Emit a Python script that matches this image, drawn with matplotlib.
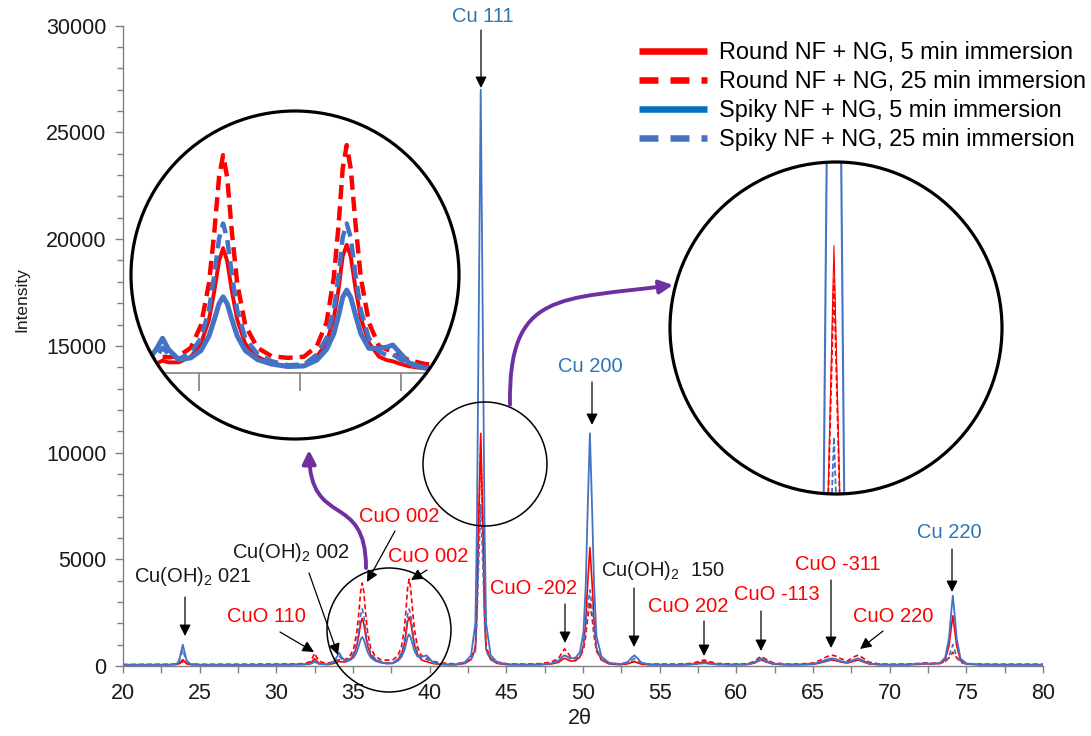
import matplotlib
matplotlib.use("Agg")
import matplotlib.pyplot as plt
import matplotlib.transforms as mtransforms
from matplotlib.patches import Circle, FancyArrowPatch
from matplotlib.path import Path
from matplotlib.lines import Line2D
from matplotlib.ticker import MultipleLocator

plt.rcParams['font.family'] = ['Liberation Sans', 'DejaVu Sans']
plt.rcParams['mathtext.fontset'] = 'custom'
plt.rcParams['mathtext.rm'] = 'Liberation Sans'
plt.rcParams['mathtext.it'] = 'Liberation Sans:italic'
plt.rcParams['mathtext.default'] = 'regular'

# ---------------- data ----------------
two_theta = [
    20, 21, 22, 23, 23.5,
    23.65, 23.78, 23.9, 24.02, 24.15, 24.4,
    25, 26.5, 28, 29.5, 31, 31.8,
    32.2, 32.38, 32.5, 32.62, 32.8, 33.1,
    33.4, 33.7, 33.95, 34.1, 34.25, 34.5, 34.8, 35.05, 35.25, 35.38,
    35.5, 35.6, 35.7, 35.82, 35.95, 36.15, 36.45, 36.8, 37.2, 37.6,
    37.92, 38.16, 38.34, 38.46, 38.56, 38.66, 38.76, 38.88, 39.01, 39.21,
    39.46, 39.65, 39.8, 39.95, 40.2, 40.6, 41.2,
    41.7, 42.3, 42.7, 42.98, 43.08, 43.18, 43.33, 43.48, 43.58, 43.68, 43.98, 44.4, 45.1,
    46.2, 47.2, 47.9,
    48.4, 48.65, 48.8, 48.95, 49.2, 49.5, 49.8, 50.03, 50.18, 50.3, 50.45, 50.6, 50.72, 50.88, 51.2, 51.7,
    52.4, 52.9, 53.15, 53.35, 53.55, 53.8, 54.3,
    55.3, 56.2, 57.1, 57.6, 57.9, 58.2, 58.7,
    59.8, 60.7, 61.2, 61.45, 61.65, 61.9, 62.4,
    63.3, 64.2, 65.0, 65.45, 65.85, 66.2, 66.5, 66.85, 67.25, 67.65, 67.95, 68.25, 68.65, 69.3,
    70.2, 71.2, 71.9, 72.3, 72.7, 73.3, 73.62, 73.87, 74.0, 74.12, 74.24, 74.37, 74.62, 75.0, 75.8, 77, 78.5, 80,
]

round_5min = [
    50, 50, 50, 55, 70,
    110, 200, 300, 200, 110, 60,
    50, 50, 50, 55, 60, 70,
    110, 250, 350, 250, 120, 80,
    70, 110, 170, 220, 190, 190, 290, 520, 950, 1450,
    2000, 2230, 2000, 1450, 950, 520, 290, 170, 120, 130,
    290, 540, 980, 1500, 2080, 2290, 2080, 1500, 980, 540,
    290, 230, 210, 170, 120, 80, 60,
    60, 120, 300, 800, 2600, 6300, 10900, 6300, 2600, 800, 300, 120, 60,
    55, 60, 90,
    170, 300, 360, 310, 230, 240, 420, 950, 2100, 3800, 5550, 3800, 2100, 800, 280, 100,
    60, 100, 160, 200, 150, 90, 60,
    55, 55, 80, 150, 200, 150, 80,
    60, 70, 140, 240, 280, 200, 90,
    60, 60, 80, 140, 220, 280, 250, 180, 140, 220, 280, 200, 100, 65,
    55, 60, 80, 100, 90, 120, 300, 950, 1700, 2350, 1700, 950, 260, 100, 60, 55, 55, 55,
]

round_25min = [
    70, 70, 75, 80, 90,
    110, 160, 200, 160, 110, 85,
    80, 80, 85, 90, 95, 110,
    200, 420, 600, 420, 220, 150,
    140, 200, 260, 290, 280, 300, 450, 850, 1600, 2500,
    3500, 3890, 3500, 2500, 1600, 850, 450, 300, 270, 290,
    480, 900, 1700, 2650, 3650, 4070, 3650, 2650, 1700, 900,
    480, 420, 390, 320, 230, 160, 120,
    100, 170, 350, 900, 2700, 6200, 10300, 6200, 2700, 900, 350, 180, 100,
    90, 110, 180,
    350, 650, 800, 680, 420, 350, 450, 750, 1400, 2200, 3000, 2200, 1400, 700, 300, 140,
    100, 130, 180, 220, 170, 120, 90,
    90, 90, 120, 220, 280, 220, 120,
    90, 110, 220, 380, 440, 330, 150,
    90, 100, 140, 260, 420, 515, 460, 330, 240, 420, 515, 380, 180, 100,
    85, 95, 120, 150, 130, 140, 200, 380, 520, 650, 520, 380, 180, 110, 90, 85, 85, 85,
]

spiky_5min = [
    60, 60, 60, 65, 90,
    250, 650, 1000, 650, 250, 90,
    60, 55, 55, 60, 65, 75,
    90, 150, 200, 150, 95, 80,
    80, 170, 430, 620, 420, 240, 270, 400, 660, 950,
    1240, 1360, 1240, 950, 660, 400, 240, 160, 115, 125,
    230, 420, 700, 1030, 1350, 1480, 1350, 1030, 700, 440,
    440, 460, 500, 380, 180, 90, 70,
    80, 180, 500, 2000, 6500, 14500, 27000, 14500, 6500, 2000, 500, 180, 80,
    65, 75, 110,
    250, 430, 500, 450, 360, 380, 650, 1600, 3800, 7200, 10900, 7200, 3800, 1400, 450, 150,
    80, 180, 380, 500, 370, 160, 80,
    60, 60, 75, 110, 130, 110, 75,
    65, 80, 180, 310, 360, 260, 110,
    65, 70, 100, 180, 290, 360, 320, 220, 170, 290, 360, 260, 120, 70,
    60, 70, 100, 130, 110, 150, 400, 1300, 2400, 3300, 2400, 1300, 350, 120, 70, 60, 60, 60,
]

spiky_25min = [
    55, 55, 60, 65, 85,
    200, 490, 750, 490, 200, 80,
    55, 55, 55, 60, 65, 75,
    100, 180, 250, 180, 100, 80,
    80, 140, 300, 450, 340, 250, 360, 620, 1120, 1740,
    2400, 2670, 2400, 1740, 1120, 620, 340, 210, 140, 150,
    330, 620, 1120, 1740, 2420, 2670, 2420, 1740, 1120, 620,
    380, 320, 330, 260, 150, 90, 70,
    70, 140, 300, 700, 2000, 4500, 7550, 4500, 2000, 700, 300, 140, 70,
    60, 75, 120,
    230, 420, 500, 440, 330, 330, 500, 950, 1800, 2700, 3560, 2700, 1800, 850, 320, 120,
    70, 150, 270, 350, 260, 130, 70,
    60, 60, 75, 110, 140, 110, 75,
    65, 80, 150, 240, 280, 210, 100,
    60, 65, 90, 160, 240, 300, 270, 190, 150, 240, 300, 220, 110, 65,
    60, 65, 90, 110, 100, 120, 200, 450, 750, 1000, 750, 450, 170, 90, 65, 60, 60, 60,
]

series_labels = ['Round NF + NG, 5 min immersion', 'Round NF + NG, 25 min immersion',
                 'Spiky NF + NG, 5 min immersion', 'Spiky NF + NG, 25 min immersion']

x_ticks = [20, 25, 30, 35, 40, 45, 50, 55, 60, 65, 70, 75, 80]
y_ticks = [0, 5000, 10000, 15000, 20000, 25000, 30000]

RED = '#FF0000'
BLUE = '#4472C4'
BLUE_DARK = '#0070C0'
CU_BLUE = '#2E75B6'
PURPLE = '#7030A0'

series = [
    (round_5min, RED, False),
    (round_25min, RED, True),
    (spiky_5min, BLUE, False),
    (spiky_25min, BLUE, True),
]

# ---------------- figure ----------------
W, H = 1091, 736
fig = plt.figure(figsize=(W / 100, H / 100), dpi=100)
pix = mtransforms.Affine2D().scale(1 / 100, -1 / 100).translate(0, H / 100) + fig.dpi_scale_trans


def box(l, t, w, h):
    return [l / W, 1 - (t + h) / H, w / W, h / H]


ax = fig.add_axes(box(123, 25.7, 920, 640.3))


def draw_series(a, widths, dash, clip=None):
    for (y, c, dashed), lw in zip(series, widths):
        kw = dict(color=c, lw=lw, solid_capstyle='butt', dash_capstyle='butt',
                  solid_joinstyle='round')
        if dashed:
            kw['linestyle'] = (0, dash)
        line, = a.plot(two_theta, y, **kw)
        if clip is not None:
            line.set_clip_path(clip)


draw_series(ax, [1.2, 1.2, 1.3, 1.2], (3, 1.8))
ax.set_xlim(20, 80)
ax.set_ylim(0, 30000)
ax.set_xticks(x_ticks)
ax.set_yticks(y_ticks)
ax.xaxis.set_minor_locator(MultipleLocator(2.5))
ax.yaxis.set_minor_locator(MultipleLocator(1000))
for s in ['top', 'right']:
    ax.spines[s].set_visible(False)
for s in ['left', 'bottom']:
    ax.spines[s].set_color('#808080')
    ax.spines[s].set_linewidth(1.0)
ax.tick_params(which='both', direction='out', color='#808080', width=1.0,
               labelsize=15.5, labelcolor='#1a1a1a')
ax.tick_params(axis='x', which='both', length=5, pad=7)
ax.tick_params(axis='y', which='major', length=6, pad=6)
ax.tick_params(axis='y', which='minor', length=4)
ax.set_xlabel('2θ', fontsize=15.5, color='#1a1a1a')
ax.xaxis.set_label_coords((580 - 123) / 920, (666 - 708) / 640.3)
ax.set_ylabel('Intensity', fontsize=12.5, color='#1a1a1a')
ax.yaxis.set_label_coords((29 - 123) / 920, (666 - 300) / 640.3)

# ---------------- small circles on main plot ----------------
for (cx, cy) in [(389, 630), (485, 464)]:
    fig.add_artist(Circle((cx, cy), 62, transform=pix, fill=False, ec='black', lw=1.1))

# ---------------- annotations ----------------
labels = [
    ('Cu(OH)$_2$ 021', 'black', (193, 576), (185, 597), (185, 636)),
    ('CuO 110', RED, (266, 616), (280, 632), (314, 652)),
    ('Cu(OH)$_2$ 002', 'black', (291, 553), (309, 573), (338, 655)),
    ('CuO 002', RED, (399, 517), (395, 531), (367, 582)),
    ('CuO 002', RED, (428, 557), (427, 570), (411, 580)),
    ('CuO -202', RED, (533, 588), (565, 604), (565, 643)),
    ('Cu 200', CU_BLUE, (590, 367), (592, 382), (592, 425)),
    ('Cu(OH)$_2$  150', 'black', (663, 571), (634, 588), (634, 647)),
    ('CuO 202', RED, (688, 606), (704, 621), (704, 656)),
    ('CuO -113', RED, (777, 595), (761, 611), (761, 651)),
    ('CuO -311', RED, (838, 564), (831, 580), (831, 648)),
    ('CuO 220', RED, (893, 616), (883, 631), (860, 649)),
    ('Cu 220', CU_BLUE, (949, 533), (952, 549), (952, 592)),
    ('Cu 111', CU_BLUE, (483, 16), (481, 30), (481, 88)),
]
for text, col, tpos, tail, tip in labels:
    fig.text(tpos[0], tpos[1], text, transform=pix, ha='center', va='center',
             fontsize=14.5, color='#1a1a1a' if col == 'black' else col)
    ax.annotate('', xy=tip, xycoords=pix, xytext=tail, textcoords=pix,
                arrowprops=dict(arrowstyle='-|>', color='black', lw=0.9,
                                mutation_scale=17, shrinkA=0, shrinkB=0))

# ---------------- purple curved arrows ----------------
purple_paths = [
    [(366, 568), (366, 490), (310, 530), (309, 450)],
    [(510, 405), (508, 290), (560, 300), (673, 285)],
]
for pts in purple_paths:
    p = Path(pts, [Path.MOVETO, Path.CURVE4, Path.CURVE4, Path.CURVE4])
    fig.add_artist(FancyArrowPatch(path=p, arrowstyle='-|>', mutation_scale=20,
                                   lw=2.8, color=PURPLE, transform=pix))

# ---------------- circular insets ----------------
def make_inset(l, t, size, xc, yc, hx, hy):
    a = fig.add_axes(box(l, t, size, size))
    a.patch.set_visible(False)
    bg = Circle((0.5, 0.5), 0.5, transform=a.transAxes, fc='white', ec='none', zorder=0)
    a.add_patch(bg)
    a.set_xlim(xc - hx, xc + hx)
    a.set_ylim(yc - hy, yc + hy)
    for s in a.spines.values():
        s.set_visible(False)
    edge = Circle((0.5, 0.5), 0.5, transform=a.transAxes, fill=False, ec='black',
                  lw=2.3, zorder=10, clip_on=False)
    a.add_patch(edge)
    return a, bg


# left inset (CuO 002 peaks)
ax_l, clip_l = make_inset(131, 111, 328, 37.38, 1750, 4.06, 2929)
ax_l.set_yticks([])
ax_l.set_xticks([35, 37.5, 40])
ax_l.set_xticklabels([])
ax_l.spines['bottom'].set_position(('data', 0))
ax_l.tick_params(axis='x', direction='out', length=13, width=1.2, color='#808080')
hl = ax_l.axhline(0, color='#808080', lw=1.2, zorder=1)
hl.set_clip_path(clip_l)
draw_series(ax_l, [2.8, 3.2, 3.6, 3.2], (3.2, 1.6), clip=clip_l)

# right inset (Cu 111 peak)
ax_r, clip_r = make_inset(670, 162, 332, 43.38, 9460, 4.04, 2902)
ax_r.set_xticks([])
ax_r.set_yticks([])
draw_series(ax_r, [0.8, 1.3, 1.5, 1.3], (3, 1.5), clip=clip_r)

# ---------------- legend ----------------
handles = [
    Line2D([], [], color=RED, lw=4.7, solid_capstyle='butt'),
    Line2D([], [], color=RED, lw=4.7, linestyle=(0, (2.9, 1.85)), dash_capstyle='butt'),
    Line2D([], [], color=BLUE_DARK, lw=4.7, solid_capstyle='butt'),
    Line2D([], [], color=BLUE, lw=4.7, linestyle=(0, (2.9, 1.85)), dash_capstyle='butt'),
]
fig.legend(handles, series_labels, loc='upper left', bbox_to_anchor=(639 / W, 1 - 41 / H),
           frameon=False, fontsize=16.9, handlelength=2.88, handletextpad=0.52,
           labelspacing=0.26, borderpad=0, borderaxespad=0)

fig.savefig('out.png', dpi=100)
